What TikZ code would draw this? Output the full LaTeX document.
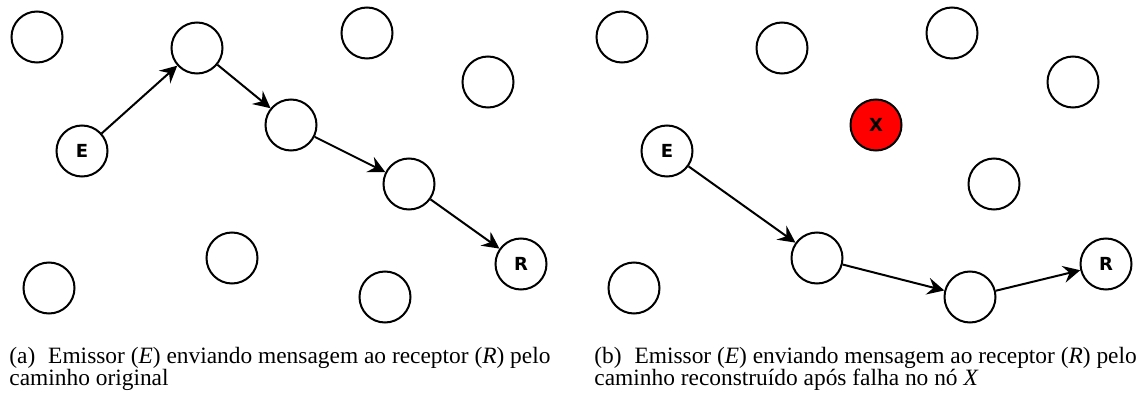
\documentclass[tikz,border=0pt]{standalone}
\usepackage{fontspec}
\setmainfont{Liberation Serif}
\newfontfamily\hostfont{DejaVu Sans}
\usetikzlibrary{arrows.meta}

\tikzset{
    host/.style={circle, draw, line width=1pt, minimum size=25.5pt, inner sep=0pt,
        font=\hostfont\bfseries\fontsize{9}{11}\selectfont},
    dead/.style={host, fill=red},
    msg/.style={line width=1pt, -{Stealth[length=8.5pt, width=8.5pt, inset=3pt]}},
    legend/.style={anchor=base west, align=left, inner sep=0pt,
        font=\rmfamily\fontsize{11.7}{11}\selectfont}
}

\begin{document}
\begin{tikzpicture}[x=0.5pt, y=-0.5pt]
    \useasboundingbox (0, 0) rectangle (1142, 396);

    % ORIGINAL PATH
    \node[host] (a1) at (37, 37) {};
    \node[host] (a2) at (197, 48) {};
    \node[host] (a3) at (367, 33) {};
    \node[host] (a4) at (488, 82) {};
    \node[host] (aE) at (82, 151) {E};
    \node[host] (a5) at (291, 125) {};
    \node[host] (a6) at (409, 184) {};
    \node[host] (aR) at (521, 264) {R};
    \node[host] (a7) at (49, 288) {};
    \node[host] (a8) at (232, 258) {};
    \node[host] (a9) at (385, 297) {};

    \draw[msg] (aE) -- (a2);
    \draw[msg] (a2) -- (a5);
    \draw[msg] (a5) -- (a6);
    \draw[msg] (a6) -- (aR);

    % base anchor sits on the last line
    \node[legend] (capa) at (9, 385) {(a)\hspace{0.55em}Emissor (\textit{E}) enviando mensagem ao receptor (\textit{R}) pelo\\caminho original};

    % REBUILT PATH
    \begin{scope}[xshift=292.5pt]
        \node[host] (b1) at (37, 37) {};
        \node[host] (b2) at (197, 48) {};
        \node[host] (b3) at (367, 33) {};
        \node[host] (b4) at (488, 82) {};
        \node[host] (bE) at (82, 151) {E};
        \node[dead] (bX) at (291, 125) {X};
        \node[host] (b6) at (409, 184) {};
        \node[host] (bR) at (521, 264) {R};
        \node[host] (b7) at (49, 288) {};
        \node[host] (b8) at (232, 258) {};
        \node[host] (b9) at (385, 297) {};

        \draw[msg] (bE) -- (b8);
        \draw[msg] (b8) -- (b9);
        \draw[msg] (b9) -- (bR);

        \node[legend] (capb) at (9, 385) {(b)\hspace{0.55em}Emissor (\textit{E}) enviando mensagem ao receptor (\textit{R}) pelo\\caminho reconstruído após falha no nó \textit{X}};
    \end{scope}
\end{tikzpicture}
\end{document}
